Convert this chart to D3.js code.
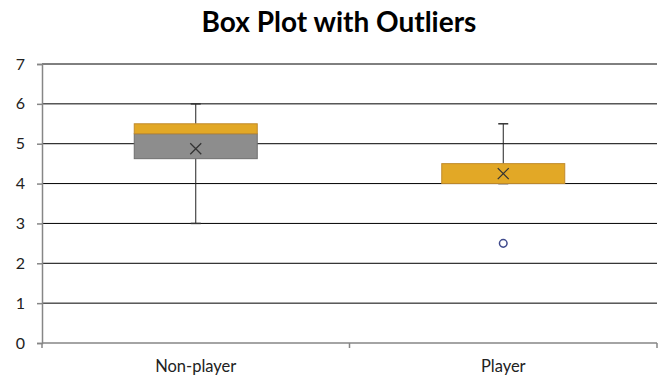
<!DOCTYPE html>
<html>
<head>
<meta charset="utf-8">
<script src="https://cdn.jsdelivr.net/npm/d3@7"></script>
<style>
  html, body { margin: 0; padding: 0; background: #fff; }
  svg { display: block; }
</style>
</head>
<body>
<svg id="chart" width="659" height="379"></svg>
<script>
// Groups and their five-number summaries
const categories = ["Non-player", "Player"];
const whiskerLow = [3, 4];
const q1 = [4.625, 4];
const median = [5.25, 4];
const q3 = [5.5, 4.5];
const whiskerHigh = [6, 5.5];
const means = [4.875, 4.25];
// Points beyond the whiskers: [group index, value]
const outliers = [[1, 2.5]];
const yTicks = [0, 1, 2, 3, 4, 5, 6, 7];

const svg = d3.select("#chart");
const margin = { left: 42, right: 2, top: 64, bottom: 36 };
const W = 659, H = 379;

const x = d3.scaleBand()
  .domain(categories)
  .range([margin.left, W - margin.right])
  .paddingInner(0)
  .paddingOuter(0);

const y = d3.scaleLinear()
  .domain([0, 7])
  .range([H - margin.bottom, margin.top]);

const font = "Lato, 'Open Sans', sans-serif";

// Title
svg.append("text")
  .attr("x", 339)
  .attr("y", 32)
  .attr("text-anchor", "middle")
  .attr("font-family", font)
  .attr("font-weight", "bold")
  .attr("font-size", 28)
  .attr("fill", "#000")
  .text("Box Plot with Outliers");

// Horizontal gridlines
svg.append("g")
  .selectAll("line")
  .data(yTicks.filter(d => d > 0))
  .join("line")
  .attr("x1", margin.left)
  .attr("x2", W - margin.right)
  .attr("y1", d => y(d))
  .attr("y2", d => y(d))
  .attr("stroke", "#000")
  .attr("stroke-width", 1);

// Y axis
const yAxis = svg.append("g")
  .attr("transform", `translate(${margin.left},0)`)
  .call(d3.axisLeft(y).tickValues(yTicks).tickFormat(d3.format("d")).tickSize(5).tickPadding(12));
yAxis.select(".domain").attr("stroke", "#868686").attr("stroke-width", 1.5);
yAxis.selectAll(".tick line").attr("stroke", "#868686").attr("stroke-width", 1.5);
yAxis.selectAll("text")
  .attr("font-family", font)
  .attr("font-size", 16)
  .attr("fill", "#222");

// X axis with ticks between categories
const xAxis = svg.append("g")
  .attr("transform", `translate(0,${y(0)})`);
xAxis.append("line")
  .attr("x1", margin.left).attr("x2", W - margin.right)
  .attr("stroke", "#868686").attr("stroke-width", 1.5);
const boundaries = [x(categories[0]), ...categories.map(c => x(c) + x.bandwidth())];
xAxis.selectAll(".bt")
  .data(boundaries)
  .join("line")
  .attr("class", "bt")
  .attr("x1", d => d).attr("x2", d => d)
  .attr("y1", 0).attr("y2", 5)
  .attr("stroke", "#868686").attr("stroke-width", 1.5);
xAxis.selectAll(".cl")
  .data(categories)
  .join("text")
  .attr("class", "cl")
  .attr("x", d => x(d) + x.bandwidth() / 2)
  .attr("y", 29)
  .attr("text-anchor", "middle")
  .attr("font-family", font)
  .attr("font-size", 16.5)
  .attr("fill", "#222")
  .text(d => d);

// Box geometry
const boxW = x.bandwidth() * 0.4;
const capW = 10;
const cx = i => x(categories[i]) + x.bandwidth() / 2;

const groups = svg.append("g")
  .selectAll("g")
  .data(categories.map((c, i) => i))
  .join("g");

// Whiskers
groups.append("line")
  .attr("x1", cx).attr("x2", cx)
  .attr("y1", i => y(whiskerHigh[i])).attr("y2", i => y(q3[i]))
  .attr("stroke", "#222").attr("stroke-width", 1);
groups.append("line")
  .attr("x1", cx).attr("x2", cx)
  .attr("y1", i => y(q1[i])).attr("y2", i => y(whiskerLow[i]))
  .attr("stroke", "#222").attr("stroke-width", 1);
// Caps
[whiskerHigh, whiskerLow].forEach(arr => {
  groups.append("line")
    .attr("x1", i => cx(i) - capW / 2).attr("x2", i => cx(i) + capW / 2)
    .attr("y1", i => y(arr[i])).attr("y2", i => y(arr[i]))
    .attr("stroke", "#333").attr("stroke-width", 1.5);
});

// Lower box (Q1 to median)
groups.append("rect")
  .attr("x", i => cx(i) - boxW / 2)
  .attr("width", boxW)
  .attr("y", i => y(median[i]))
  .attr("height", i => y(q1[i]) - y(median[i]))
  .attr("fill", "#8d8d8d")
  .attr("stroke", "#6f6f6f")
  .attr("stroke-width", 1);

// Upper box (median to Q3)
groups.append("rect")
  .attr("x", i => cx(i) - boxW / 2)
  .attr("width", boxW)
  .attr("y", i => y(q3[i]))
  .attr("height", i => y(median[i]) - y(q3[i]))
  .attr("fill", "#e2a826")
  .attr("stroke", "#c08a2c")
  .attr("stroke-width", 1);

// Mean markers
const mk = 5.5;
groups.append("path")
  .attr("d", i => {
    const px = cx(i), py = y(means[i]);
    return `M${px - mk},${py - mk}L${px + mk},${py + mk}M${px - mk},${py + mk}L${px + mk},${py - mk}`;
  })
  .attr("stroke", "#333")
  .attr("stroke-width", 1.3)
  .attr("fill", "none");

// Outliers
svg.append("g")
  .selectAll("circle")
  .data(outliers)
  .join("circle")
  .attr("cx", d => cx(d[0]))
  .attr("cy", d => y(d[1]))
  .attr("r", 3.8)
  .attr("fill", "#fff")
  .attr("stroke", "#3f4a8c")
  .attr("stroke-width", 1.5);
</script>
</body>
</html>
